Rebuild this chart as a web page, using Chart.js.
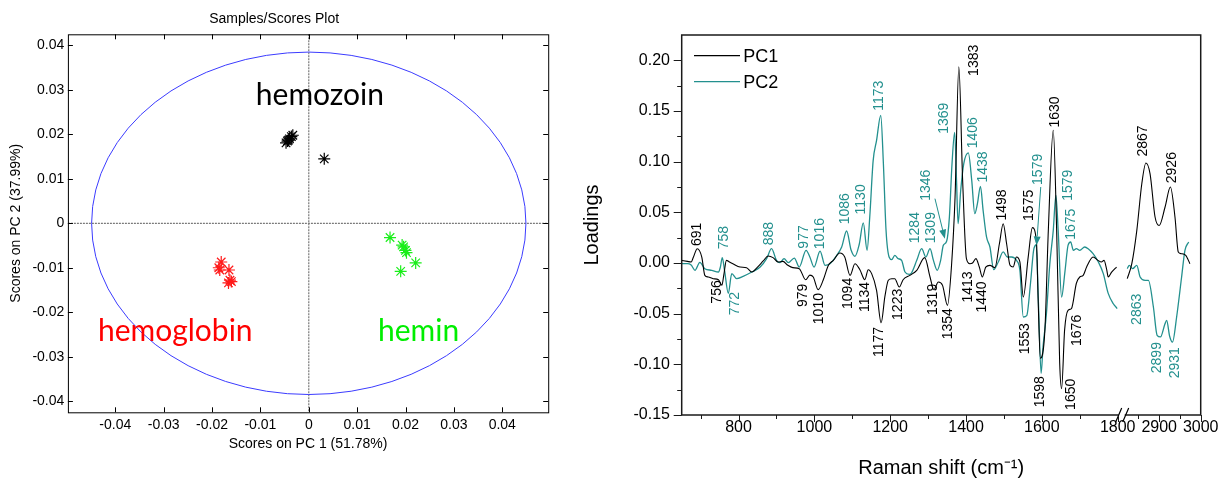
<!DOCTYPE html>
<html>
<head>
<meta charset="utf-8">
<script src="https://cdn.jsdelivr.net/npm/chart.js@4.4.0/dist/chart.umd.min.js"></script>
<style>
  body { margin: 0; background: #fff; width: 1222px; height: 481px; overflow: hidden; position: relative; }
  #scores   { position: absolute; left: 0;     top: 0; }
  #loadings { position: absolute; left: 560px; top: 0; }
</style>
</head>
<body>
<canvas id="scores" width="560" height="481"></canvas>
<canvas id="loadings" width="662" height="481"></canvas>
<script>
// --- Scores data (PC1, PC2) ---
const hemozoinPC1   = [-0.0047, -0.0044, -0.0040, -0.0036, -0.0033, -0.0042, 0.0032];
const hemozoinPC2   = [ 0.0181,  0.0185,  0.0190,  0.0195,  0.0198,  0.0187, 0.0145];
const hemoglobinPC1 = [-0.0181, -0.0186, -0.0184, -0.0165, -0.0163, -0.0160, -0.0166];
const hemoglobinPC2 = [-0.0087, -0.0100, -0.0105, -0.0105, -0.0128, -0.0131, -0.0134];
const heminPC1      = [ 0.0168,  0.0193,  0.0196,  0.0200,  0.0202,  0.0221,  0.0190];
const heminPC2      = [-0.0032, -0.0049, -0.0053, -0.0061, -0.0066, -0.0089, -0.0108];
const ellipseAxes   = [0.0449, 0.0385]; // confidence ellipse semi-axes

// --- Loadings data: 650-1800 and 2800-3000 cm-1 ---
const pc1Shift = [650,665,675,681,691,703,711,720,733,747,756,761,768,776,785,804,821,835,850,865,878,891,904,917,930,943,960,977,988,997,1010,1023,1037,1050,1067,1080,1094,1107,1120,1133,1142,1151,1164,1176,1186,1195,1204,1212,1224,1234,1252,1270,1291,1305,1315,1327,1338,1351,1362,1371,1381,1391,1401,1410,1417,1426,1435,1443,1452,1463,1476,1488,1498,1507,1516,1524,1533,1542,1551,1564,1575,1586,1590,1596,1608,1617,1630,1639,1647,1652,1660,1669,1678,1691,1700,1709,1718,1735,1748,1757,1764,1771,1775,1784,1797];
const pc1Loading = [0.0026,0.0016,0.0010,0.0059,0.0141,0.0059,-0.0122,-0.0138,-0.0155,-0.0165,-0.0220,-0.0120,0.0026,0.0010,-0.0007,-0.0040,-0.0046,-0.0089,-0.0040,0.0020,0.0069,0.0053,0.0010,0.0016,-0.0023,-0.0046,-0.0056,-0.0165,-0.0120,-0.0138,-0.0263,-0.0171,-0.0023,0.0026,0.0099,0.0060,-0.0122,-0.0007,-0.0066,-0.0165,-0.0066,-0.0105,-0.0270,-0.0590,-0.0330,-0.0170,-0.0155,-0.0155,-0.0237,-0.0165,-0.0122,-0.0072,0.0053,-0.0138,-0.0263,-0.0188,-0.0221,-0.0418,-0.0007,0.0650,0.1935,0.0816,0.0043,-0.0007,0.0000,0.0043,-0.0040,-0.0138,-0.0040,-0.0023,-0.0046,0.0190,0.0388,0.0190,-0.0023,-0.0040,0.0059,0.0010,-0.0336,0.0060,0.0349,0.0190,-0.0340,-0.0940,-0.0660,0.0320,0.1310,0.0320,-0.0990,-0.1240,-0.0660,-0.0467,-0.0450,-0.0200,-0.0138,-0.0122,-0.0040,0.0059,0.0026,0.0010,0.0026,-0.0066,-0.0138,-0.0090,-0.0040];
const pc2Shift = [650,665,675,685,698,711,729,747,752,757,763,773,782,795,812,835,857,874,887,900,909,920,931,947,960,978,988,999,1015,1028,1041,1059,1072,1085,1097,1107,1118,1129,1139,1146,1155,1164,1175,1182,1189,1197,1204,1212,1221,1230,1239,1250,1256,1270,1283,1294,1305,1314,1324,1333,1340,1349,1356,1363,1370,1375,1379,1386,1394,1406,1415,1423,1430,1438,1445,1454,1463,1473,1485,1498,1509,1520,1533,1542,1551,1560,1570,1578,1585,1591,1598,1603,1612,1621,1630,1637,1643,1652,1661,1669,1676,1683,1691,1700,1713,1722,1735,1749,1762,1775,1788,1799];
const pc2Loading = [-0.0007,-0.0007,-0.0020,-0.0072,0.0007,-0.0056,-0.0072,-0.0089,-0.0040,0.0053,-0.0072,-0.0300,-0.0105,-0.0155,-0.0132,-0.0089,-0.0040,0.0043,0.0141,0.0026,0.0003,0.0043,0.0003,0.0049,-0.0040,0.0125,0.0060,-0.0040,0.0118,-0.0023,-0.0007,0.0076,0.0158,0.0316,0.0125,0.0066,0.0180,0.0395,0.0125,0.0454,0.1010,0.1210,0.1457,0.0980,0.0320,0.0059,0.0033,0.0076,0.0043,0.0026,-0.0089,-0.0112,-0.0099,0.0026,0.0141,0.0059,0.0141,0.0026,-0.0072,0.0026,0.0174,0.0217,0.0450,0.0980,0.1290,0.0800,0.0388,0.0720,0.0980,0.1086,0.0816,0.0487,0.0586,0.0757,0.0520,0.0257,0.0158,-0.0066,0.0010,0.0109,0.0059,0.0059,0.0026,-0.0072,-0.0533,-0.0520,-0.0200,0.0120,0.0180,-0.0400,-0.1090,-0.0830,-0.0500,-0.0007,0.0320,0.0668,0.0320,-0.0336,-0.0080,0.0174,0.0207,0.0125,0.0141,0.0125,0.0158,0.0141,0.0092,0.0010,-0.0105,-0.0300,-0.0400,-0.0450];
const pc1ShiftHigh   = [2823,2834,2846,2858,2868,2878,2890,2900,2914,2927,2938,2946,2953,2964,2974];
const pc1LoadingHigh = [-0.0155,-0.0007,0.0320,0.0780,0.0987,0.0880,0.0454,0.0370,0.0550,0.0750,0.0454,0.0109,0.0092,0.0076,-0.0007];
const pc2ShiftHigh   = [2823,2828,2836,2846,2854,2866,2874,2886,2895,2903,2914,2918,2925,2932,2942,2954,2962,2971];
const pc2LoadingHigh = [-0.0056,-0.0023,-0.0056,-0.0023,-0.0138,-0.0171,-0.0171,-0.0434,-0.0714,-0.0730,-0.0599,-0.0566,-0.0720,-0.0780,-0.0533,-0.0138,0.0125,0.0207];

// peak annotations: [text, shift, loading] = centre of the rotated text
const pc1Peaks = [['691',692,0.0283],['756',744,-0.0286],['979',971,-0.0319],['1010',1013,-0.045],['1094',1089.5,-0.030],['1134',1133,-0.0336],['1177',1171,-0.078],['1223',1221,-0.0408],['1319',1313.5,-0.0359],['1354',1353,-0.0599],['1383',1421,0.200],['1413',1406,-0.0237],['1440',1443,-0.0336],['1498',1496,0.0572],['1575',1566,0.0569],['1553',1555,-0.0747],['1598',1596.5,-0.127],['1630',1634,0.149],['1650',1678,-0.1296],['1676',1693,-0.0665],['2867',2862,0.1204],['2926',2930,0.0941]];
const pc2Peaks = [['758',761.6,0.025],['772',790.6,-0.0401],['888',880,0.029],['977',972.6,0.0257],['1016',1015,0.029],['1086',1081,0.0536],['1130',1124.5,0.0628],['1173',1171,0.165],['1284',1267,0.0349],['1309',1307,0.0349],['1346',1296,0.0767],['1369',1342,0.1428],['1406',1419,0.1286],['1438',1445,0.0948],['1579',1589,0.0924],['1579',1669,0.0767],['1675',1678,0.0382],['2863',2846,-0.0457],['2899',2894,-0.0934],['2931',2938,-0.0984]];
const pc2Arrows = [[1318,0.0635,1344,0.024],[1597,0.075,1586,0.0174]];

const TEAL = '#23908e';
Chart.defaults.font.family = "'Liberation Sans', Arial, sans-serif";
Chart.defaults.color = '#000';

const pts = (xs, ys) => xs.map((x, i) => ({ x, y: ys[i] }));
const fmt2 = v => Math.abs(v) < 1e-9 ? '0' : v.toFixed(2);

// --- Scores plot ---
const groupText = [
  { text: 'hemozoin',   color: '#000000', x:  0.0023, y:  0.0265 },
  { text: 'hemoglobin', color: '#ff0000', x: -0.0276, y: -0.0265 },
  { text: 'hemin',      color: '#00ee00', x:  0.0227, y: -0.0265 }
];

const scoresDecor = {
  id: 'scoresDecor',
  beforeDatasetsDraw(chart) {
    const { ctx, chartArea: a, scales: { x, y } } = chart;
    ctx.save();
    // zero lines
    ctx.strokeStyle = '#7a7a7a';
    ctx.lineWidth = 1.2;
    ctx.setLineDash([2, 1]);
    ctx.beginPath();
    ctx.moveTo(x.getPixelForValue(0), a.top);    ctx.lineTo(x.getPixelForValue(0), a.bottom);
    ctx.moveTo(a.left, y.getPixelForValue(0));   ctx.lineTo(a.right, y.getPixelForValue(0));
    ctx.stroke();
    ctx.setLineDash([]);
    // ellipse
    const cx = x.getPixelForValue(0), cy = y.getPixelForValue(0);
    ctx.strokeStyle = '#3b3bff';
    ctx.lineWidth = 1;
    ctx.beginPath();
    ctx.ellipse(cx, cy, x.getPixelForValue(ellipseAxes[0]) - cx, cy - y.getPixelForValue(ellipseAxes[1]), 0, 0, Math.PI * 2);
    ctx.stroke();
    ctx.restore();
  },
  afterDatasetsDraw(chart) {
    const { ctx, scales: { x, y } } = chart;
    ctx.save();
    ctx.font = "30px Lato, 'Open Sans', sans-serif";
    ctx.textAlign = 'center';
    ctx.textBaseline = 'alphabetic';
    groupText.forEach(g => {
      ctx.fillStyle = g.color;
      ctx.fillText(g.text, x.getPixelForValue(g.x), y.getPixelForValue(g.y));
    });
    ctx.restore();
  },
  afterDraw(chart) {
    const { ctx, chartArea: a, scales: { x, y } } = chart;
    const len = 5;
    ctx.save();
    ctx.strokeStyle = '#000';
    ctx.lineWidth = 1;
    ctx.strokeRect(a.left + 0.5, a.top + 0.5, a.width, a.height);
    ctx.beginPath();
    x.ticks.forEach(t => {
      const px = Math.round(x.getPixelForValue(t.value)) + 0.5;
      ctx.moveTo(px, a.bottom); ctx.lineTo(px, a.bottom - len);
      ctx.moveTo(px, a.top);    ctx.lineTo(px, a.top + len);
    });
    y.ticks.forEach(t => {
      const py = Math.round(y.getPixelForValue(t.value)) + 0.5;
      ctx.moveTo(a.left, py);  ctx.lineTo(a.left + len, py);
      ctx.moveTo(a.right, py); ctx.lineTo(a.right - len, py);
    });
    ctx.stroke();
    ctx.restore();
  }
};

const starSet = (label, xs, ys, color) => ({
  label, data: pts(xs, ys),
  pointStyle: 'star', pointRadius: 6, borderWidth: 1.2,
  borderColor: color, backgroundColor: color
});

new Chart(document.getElementById('scores'), {
  type: 'scatter',
  data: {
    datasets: [
      starSet('hemozoin',   hemozoinPC1,   hemozoinPC2,   '#000000'),
      starSet('hemoglobin', hemoglobinPC1, hemoglobinPC2, '#ff1a1a'),
      starSet('hemin',      heminPC1,      heminPC2,      '#1aee1a')
    ]
  },
  options: {
    responsive: false,
    animation: false,
    layout: { padding: { left: 0, right: 11.8, top: 0, bottom: 28.7 } },
    plugins: {
      legend: { display: false },
      tooltip: { enabled: false },
      title: { display: true, text: 'Samples/Scores Plot', font: { size: 14, weight: 'normal' },
               padding: { top: 10.6, bottom: 6.9 }, color: '#000' }
    },
    scales: {
      x: {
        min: -0.0498, max: 0.0495,
        ticks: { stepSize: 0.01, includeBounds: false, maxRotation: 0, autoSkip: false, padding: 4.3,
                 font: { size: 14 }, callback: fmt2 },
        grid: { display: false, drawTicks: false }, border: { display: false },
        title: { display: true, text: 'Scores on PC 1 (51.78%)', font: { size: 14 }, padding: { top: 0, bottom: 0 } },
        afterFit: s => { s.height = 40; }
      },
      y: {
        min: -0.0425, max: 0.0425,
        ticks: { stepSize: 0.01, includeBounds: false, padding: 3.6, font: { size: 14 }, callback: fmt2 },
        grid: { display: false, drawTicks: false }, border: { display: false },
        title: { display: true, text: 'Scores on PC 2 (37.99%)', font: { size: 14 }, padding: { top: 7.6, bottom: 0 } },
        afterFit: s => { s.width = 67.9; }
      }
    }
  },
  plugins: [scoresDecor]
});

// --- Loadings plot ---
function drawArrow(ctx, x1, y1, x2, y2, color) {
  const ang = Math.atan2(y2 - y1, x2 - x1), hl = 9, hw = 3.5;
  ctx.strokeStyle = color; ctx.fillStyle = color; ctx.lineWidth = 1;
  ctx.beginPath(); ctx.moveTo(x1, y1); ctx.lineTo(x2 - hl * Math.cos(ang), y2 - hl * Math.sin(ang)); ctx.stroke();
  ctx.beginPath();
  ctx.moveTo(x2, y2);
  ctx.lineTo(x2 - hl * Math.cos(ang) + hw * Math.sin(ang), y2 - hl * Math.sin(ang) - hw * Math.cos(ang));
  ctx.lineTo(x2 - hl * Math.cos(ang) - hw * Math.sin(ang), y2 - hl * Math.sin(ang) + hw * Math.cos(ang));
  ctx.closePath(); ctx.fill();
}

const loadingsDecor = {
  id: 'loadingsDecor',
  afterDatasetsDraw(chart) {
    const { ctx, chartArea: a, scales: { x, x2, y } } = chart;
    const sx = v => (v > 2000 ? x2 : x).getPixelForValue(v);
    ctx.save();
    ctx.font = "14px 'Liberation Sans', Arial, sans-serif";
    ctx.textAlign = 'center';
    ctx.textBaseline = 'middle';
    const put = (list, color) => list.forEach(([t, s, v]) => {
      ctx.save();
      ctx.translate(sx(s), y.getPixelForValue(v));
      ctx.rotate(-Math.PI / 2);
      ctx.fillStyle = color;
      ctx.fillText(t, 0, 0);
      ctx.restore();
    });
    put(pc1Peaks, '#000');
    put(pc2Peaks, TEAL);
    pc2Arrows.forEach(([s1, v1, s2, v2]) =>
      drawArrow(ctx, sx(s1), y.getPixelForValue(v1), sx(s2), y.getPixelForValue(v2), TEAL));

    // legend
    ctx.font = "18px 'Liberation Sans', Arial, sans-serif";
    ctx.textAlign = 'left';
    chart.data.datasets.slice(0, 2).forEach((d, i) => {
      const ly = a.top + 20.7 + i * 26;
      ctx.strokeStyle = d.borderColor; ctx.lineWidth = 1.2;
      ctx.beginPath(); ctx.moveTo(a.left + 12.3, ly); ctx.lineTo(a.left + 58.3, ly); ctx.stroke();
      ctx.fillStyle = '#000';
      ctx.fillText(d.label, a.left + 61.6, ly + 1);
    });
    ctx.restore();
  },
  afterDraw(chart) {
    const { ctx, chartArea: a, scales: { x, x2, y } } = chart;
    ctx.save();
    ctx.strokeStyle = '#1a1a1a';
    ctx.lineWidth = 1.5;
    ctx.strokeRect(a.left, a.top, a.width, a.height);
    // ticks, outward
    ctx.beginPath();
    ctx.lineWidth = 1;
    const xt = (s, isMajor) => s.ticks.forEach(t => {
      if (s === x2 && t.value <= 2800) return;
      const px = Math.round(s.getPixelForValue(t.value)) + 0.5;
      ctx.moveTo(px, a.bottom); ctx.lineTo(px, a.bottom + (isMajor(t.value) ? 7 : 4));
    });
    xt(x, v => v % 200 === 0);
    xt(x2, v => v % 100 === 0);
    y.ticks.forEach(t => {
      if (t.label === '') return;
      const py = Math.round(y.getPixelForValue(t.value)) + 0.5;
      ctx.moveTo(a.left, py); ctx.lineTo(a.left - 8, py);
      const mid = t.value + 0.025;
      if (mid < y.max) {
        const pm = Math.round(y.getPixelForValue(mid)) + 0.5;
        ctx.moveTo(a.left, pm); ctx.lineTo(a.left - 4.5, pm);
      }
    });
    ctx.stroke();
    // axis break
    const bx = x.right, by = a.bottom;
    ctx.fillStyle = '#fff';
    ctx.fillRect(bx + 1, by - 2, 6, 4);
    ctx.strokeStyle = '#000';
    ctx.lineWidth = 1.2;
    ctx.beginPath();
    ctx.moveTo(bx - 2, by + 7);  ctx.lineTo(bx + 4, by - 7);
    ctx.moveTo(bx + 5, by + 7);  ctx.lineTo(bx + 11, by - 7);
    ctx.stroke();
    ctx.restore();
  }
};

const lineSet = (label, xs, ys, color, axis, w) => ({
  label, data: pts(xs, ys), xAxisID: axis, yAxisID: 'y',
  showLine: true, pointRadius: 0, borderColor: color, backgroundColor: color,
  borderWidth: w, cubicInterpolationMode: 'monotone'
});

const xTickBase = { includeBounds: false, autoSkip: false, maxRotation: 0, padding: 3.4, font: { size: 16 } };

new Chart(document.getElementById('loadings'), {
  type: 'scatter',
  data: {
    datasets: [
      lineSet('PC1', pc1Shift, pc1Loading, '#000000', 'x', 1.1),
      lineSet('PC2', pc2Shift, pc2Loading, TEAL, 'x', 1.3),
      lineSet('PC1', pc1ShiftHigh, pc1LoadingHigh, '#000000', 'x2', 1.1),
      lineSet('PC2', pc2ShiftHigh, pc2LoadingHigh, TEAL, 'x2', 1.3)
    ]
  },
  options: {
    responsive: false,
    animation: false,
    layout: { padding: { left: 0, right: 21.3, top: 35, bottom: 0 } },
    plugins: {
      legend: { display: false },
      tooltip: { enabled: false },
      title: { display: true, position: 'bottom', fullSize: false, text: 'Raman shift (cm\u207B\u00B9)',
               font: { size: 20, weight: 'normal' }, padding: { top: 11, bottom: 1 }, color: '#000' }
    },
    scales: {
      x: {
        type: 'linear', position: 'bottom', min: 650, max: 1800, stack: 'raman', stackWeight: 436,
        ticks: { ...xTickBase, stepSize: 100, maxTicksLimit: 13, callback: v => v % 200 === 0 ? v : '' },
        grid: { display: false, drawTicks: false }, border: { display: false },
        afterFit: s => { s.height = 30; }
      },
      x2: {
        type: 'linear', position: 'bottom', min: 2800, max: 3000, stack: 'raman', stackWeight: 83,
        ticks: { ...xTickBase, stepSize: 50, maxTicksLimit: 6, callback: v => (v % 100 === 0 && v > 2800) ? v : '' },
        grid: { display: false, drawTicks: false }, border: { display: false },
        afterFit: s => { s.height = 30; }
      },
      y: {
        min: -0.15, max: 0.225,
        ticks: { stepSize: 0.05, includeBounds: true, maxTicksLimit: 20, padding: 11.7, font: { size: 16 },
                 callback: v => v > 0.2001 ? '' : (Math.abs(v) < 1e-9 ? 0 : v).toFixed(2) },
        grid: { display: false, drawTicks: false }, border: { display: false },
        title: { display: true, text: 'Loadings', font: { size: 20 }, padding: { top: 20.5, bottom: 0 } },
        afterFit: s => { s.width = 121.7; }
      }
    }
  },
  plugins: [loadingsDecor]
});
</script>
</body>
</html>
